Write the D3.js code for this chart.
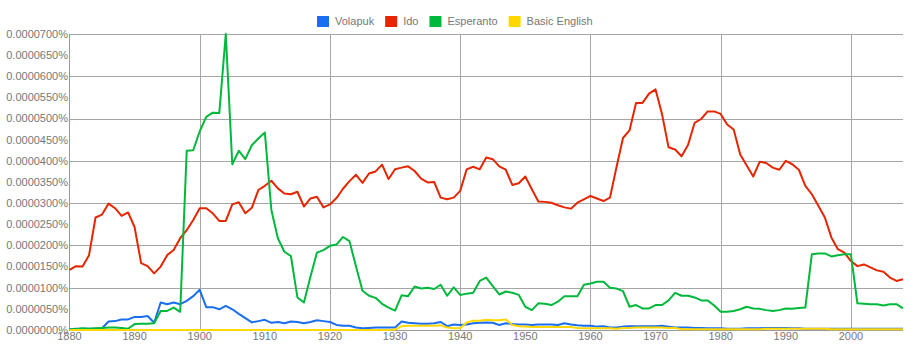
<!DOCTYPE html>
<html lang="en">
<head>
<meta charset="UTF-8">
<script src="https://d3js.org/d3.v7.min.js"></script>
<style>
    body {
        margin: 0;
        background: #fff;
        font-family: Arial, "Liberation Sans", sans-serif;
        overflow: hidden;
    }
    .lbl {
        font-size: 11px;
        fill: #777;
    }
</style>
</head>
<body>
<svg id="chart"></svg>
<script>
// values are in units of 0.0000001 %
const years = [
    1880,1881,1882,1883,1884,1885,1886,1887,1888,1889,
    1890,1891,1892,1893,1894,1895,1896,1897,1898,1899,
    1900,1901,1902,1903,1904,1905,1906,1907,1908,1909,
    1910,1911,1912,1913,1914,1915,1916,1917,1918,1919,
    1920,1921,1922,1923,1924,1925,1926,1927,1928,1929,
    1930,1931,1932,1933,1934,1935,1936,1937,1938,1939,
    1940,1941,1942,1943,1944,1945,1946,1947,1948,1949,
    1950,1951,1952,1953,1954,1955,1956,1957,1958,1959,
    1960,1961,1962,1963,1964,1965,1966,1967,1968,1969,
    1970,1971,1972,1973,1974,1975,1976,1977,1978,1979,
    1980,1981,1982,1983,1984,1985,1986,1987,1988,1989,
    1990,1991,1992,1993,1994,1995,1996,1997,1998,1999,
    2000,2001,2002,2003,2004,2005,2006,2007,2008
];

const volapuk = [
    2,3,3,3,3,4,20,21,25,25,
    31,31,33,17,65,61,65,61,69,80,
    95,54,54,49,57,49,38,28,18,21,
    24,17,19,16,20,19,16,19,23,21,
    19,12,10,10,6,4,5,6,6,6,
    6,20,17,16,15,15,16,19,9,13,
    12,13,16,17,18,17,12,16,14,13,
    13,12,13,13,13,12,16,13,11,10,
    10,8,9,6,6,8,9,9,9,9,
    9,10,8,6,6,6,5,5,4,4,
    4,3,3,3,4,4,4,5,5,5,
    5,4,4,3,3,3,3,3,3,3,
    3,3,3,3,3,3,3,3,3
];

const ido = [
    142,151,150,177,266,273,299,288,270,278,
    243,158,151,134,150,177,189,217,236,260,
    288,288,276,258,258,297,302,276,289,331,
    341,353,335,323,321,327,292,311,315,290,
    297,312,334,352,367,348,370,375,391,357,
    380,384,387,376,358,349,350,313,309,313,
    329,380,386,380,408,404,387,379,343,347,
    363,333,304,303,301,295,290,287,301,309,
    317,311,305,313,385,454,472,537,537,559,
    569,510,432,427,411,438,490,499,517,517,
    511,486,474,415,389,363,398,395,384,379,
    400,392,379,341,321,294,266,219,191,183,
    163,151,155,148,141,138,124,116,120
];

const esperanto = [
    2,2,4,3,4,5,6,6,5,3,
    14,15,15,16,45,45,53,43,424,425,
    470,504,514,513,700,392,424,404,437,453,
    467,284,217,185,175,77,65,126,183,189,
    199,202,220,210,150,93,81,76,62,53,
    46,82,80,103,98,100,97,107,81,101,
    83,86,88,116,124,104,84,91,88,83,
    55,47,63,62,59,67,80,80,80,107,
    110,114,114,100,98,92,55,59,51,51,
    59,59,70,88,81,81,77,70,70,58,
    43,43,45,49,55,51,50,47,45,47,
    51,50,52,53,179,181,181,174,177,179,
    179,63,62,61,61,58,61,61,51
];

const basicEnglish = [
    0,0,0,0,0,0,0,0,0,0,
    0,0,0,0,0,0,0,0,0,0,
    0,0,0,0,0,0,0,0,0,0,
    0,0,0,0,0,0,0,0,0,0,
    0,0,0,0,0,0,0,0,0,0,
    1,9,10,10,10,10,10,11,6,4,
    4,18,22,22,24,23,23,25,12,9,
    8,7,7,7,7,7,7,7,5,4,
    4,4,4,4,3,5,5,6,6,6,
    6,6,5,5,2,2,2,2,2,2,
    2,2,2,2,2,2,2,3,3,3,
    3,3,3,3,3,3,3,2,2,2,
    2,2,2,2,2,2,2,2,2
];

const seriesNames = ["Volapuk", "Ido", "Esperanto", "Basic English"];
const seriesColors = ["#1a6ef0", "#e52600", "#00b93c", "#ffd800"];
const xTicks = [1880, 1890, 1900, 1910, 1920, 1930, 1940, 1950, 1960, 1970, 1980, 1990, 2000];
const xGrid = [1900, 1920, 1940, 1960, 1980, 2000];
const yTicks = [0, 50, 100, 150, 200, 250, 300, 350, 400, 450, 500, 550, 600, 650, 700];
const yGrid = [100, 200, 300, 400, 500, 600, 700];

function drawChart() {
    const width = 913, height = 354;
    const margin = { top: 34, right: 10, bottom: 24, left: 69 };

    const svg = d3.select("#chart")
        .attr("width", width)
        .attr("height", height);
    svg.selectAll("*").remove();

    const x = d3.scaleLinear()
        .domain([1880, 2008])
        .range([margin.left + 0.5, width - margin.right]);
    const y = d3.scaleLinear()
        .domain([0, 700])
        .range([height - margin.bottom, margin.top]);

    // grid
    svg.append("g").selectAll("line")
        .data(yGrid)
        .enter().append("line")
        .attr("x1", margin.left).attr("x2", width - margin.right)
        .attr("y1", d => Math.round(y(d)) + 0.5)
        .attr("y2", d => Math.round(y(d)) + 0.5)
        .attr("stroke", "#a6a6a6");

    svg.append("g").selectAll("line")
        .data(xGrid)
        .enter().append("line")
        .attr("x1", d => Math.round(x(d)) + 0.5)
        .attr("x2", d => Math.round(x(d)) + 0.5)
        .attr("y1", margin.top).attr("y2", height - margin.bottom)
        .attr("stroke", "#a6a6a6");

    // left axis line + baseline
    svg.append("line")
        .attr("x1", margin.left + 0.5).attr("x2", margin.left + 0.5)
        .attr("y1", margin.top).attr("y2", height - margin.bottom)
        .attr("stroke", "#999");
    svg.append("line")
        .attr("x1", margin.left).attr("x2", width - margin.right)
        .attr("y1", height - margin.bottom + 0.5).attr("y2", height - margin.bottom + 0.5)
        .attr("stroke", "#999");

    // axis labels
    svg.append("g").selectAll("text")
        .data(yTicks)
        .enter().append("text")
        .attr("class", "lbl")
        .attr("x", margin.left - 1)
        .attr("y", d => y(d))
        .attr("dy", "0.35em")
        .attr("text-anchor", "end")
        .text(d => (d / 1e7).toFixed(7) + "%");

    svg.append("g").selectAll("text")
        .data(xTicks)
        .enter().append("text")
        .attr("class", "lbl")
        .attr("x", d => x(d))
        .attr("y", height - margin.bottom + 10)
        .attr("text-anchor", "middle")
        .text(d => d);

    // lines
    const allSeries = [volapuk, ido, esperanto, basicEnglish];
    const line = d3.line()
        .x((d, i) => x(years[i]))
        .y(d => y(d));

    svg.append("g").selectAll("path")
        .data(allSeries)
        .enter().append("path")
        .attr("d", d => line(d))
        .attr("fill", "none")
        .attr("stroke", (d, i) => seriesColors[i])
        .attr("stroke-width", 2)
        .attr("stroke-linejoin", "round");

    // legend
    const legend = svg.append("g");
    let lx = 0;
    seriesNames.forEach((name, i) => {
        const item = legend.append("g").attr("transform", `translate(${lx},0)`);
        item.append("rect")
            .attr("x", 0).attr("y", 16)
            .attr("width", 12).attr("height", 11)
            .attr("fill", seriesColors[i]);
        const t = item.append("text")
            .attr("class", "lbl")
            .attr("x", 18).attr("y", 21.5)
            .attr("dy", "0.35em")
            .text(name);
        lx += 18 + t.node().getComputedTextLength() + 11;
    });
    const legendW = lx - 11;
    legend.attr("transform", `translate(${Math.round(width / 2 - legendW / 2) - 2},0)`);
}

drawChart();
</script>
</body>
</html>
